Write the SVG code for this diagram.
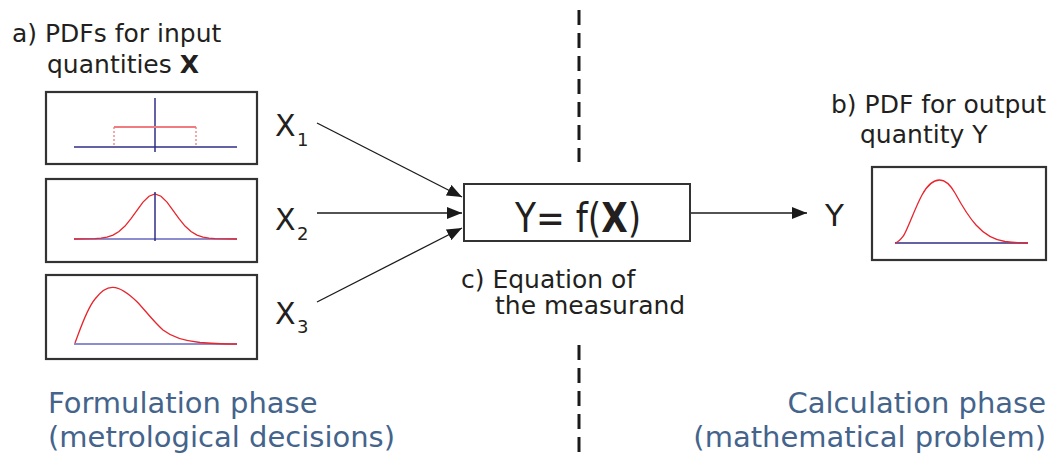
<svg xmlns="http://www.w3.org/2000/svg" width="1056" height="457" viewBox="0 0 1056 457">
<style>
.lbl{font-family:"DejaVu Sans",Verdana,sans-serif;font-size:25px;fill:#231f20}
.big{font-family:"DejaVu Sans",Verdana,sans-serif;fill:#231f20}
.phase{font-family:"DejaVu Sans",Verdana,sans-serif;font-size:29px;fill:#44648c}
.pbox{fill:#fff;stroke:#333;stroke-width:2.2}
.red{fill:none;stroke:#e8242c;stroke-width:1.3}
.axis{fill:none;stroke:#2e2e86;stroke-width:1.5}
.axisl{fill:none;stroke:#8c8cd0;stroke-width:2}
.conn{fill:none;stroke:#1a1a1a;stroke-width:1.3}
</style>
<defs>
<marker id="ah" markerUnits="userSpaceOnUse" markerWidth="16" markerHeight="12" refX="15" refY="6" orient="auto">
<path d="M0,0 L15,6 L0,12 Z" fill="#1a1a1a"/>
</marker>
</defs>

<g id="divider">
<line x1="579" y1="10" x2="579" y2="162" stroke="#1a1a1a" stroke-width="3" stroke-dasharray="15,8"/>
<line x1="579" y1="345" x2="579" y2="457" stroke="#1a1a1a" stroke-width="3" stroke-dasharray="15,8"/>
</g>

<g id="label-a">
<text class="lbl" x="12" y="42">a) PDFs for input</text>
<text class="lbl" x="47" y="73">quantities <tspan font-weight="bold">X</tspan></text>
</g>

<g id="pdf1">
<rect class="pbox" x="46" y="92" width="211" height="72"/>
<line class="axis" x1="74" y1="147" x2="237" y2="147"/>
<line class="axis" x1="155" y1="98" x2="155" y2="152"/>
<path d="M114,127 H196" fill="none" stroke="#f07b80" stroke-width="1.8"/>
<path d="M114,127 V147 M196,127 V147" fill="none" stroke="#f07b80" stroke-width="1.3" stroke-dasharray="2,2"/>
</g>

<g id="pdf2">
<rect class="pbox" x="46" y="179" width="211" height="83"/>
<line class="axisl" x1="74" y1="239" x2="237" y2="239"/>
<path class="red" d="M74,239 L95,238.7 L101,238.2 L107,237.2 L113,235.1 L119,231.5 L125,226.1 L131,218.7 L137,210.3 L143,202.1 L149,196.2 L155,194 L161,196.2 L167,202.1 L173,210.3 L179,218.7 L185,226.1 L191,231.5 L197,235.1 L203,237.2 L209,238.2 L215,238.7 L237,239"/>
<line class="axis" x1="155" y1="192" x2="155" y2="241"/>
</g>

<g id="pdf3">
<rect class="pbox" x="46" y="275" width="211" height="84"/>
<line class="axisl" x1="74" y1="344" x2="237" y2="344"/>
<path class="red" d="M75,343 C79,333 86,310 95,299 C101,291 107,287 113,287.3 C120,287.5 127,292 137,301.7 C145,310 152,320 163,330 C172,337 185,341 200,342.5 C215,343.5 228,344 237,344"/>
</g>

<g id="x-labels">
<text class="big" font-size="30" x="275" y="136">X</text><text class="big" font-size="18" x="297" y="146">1</text>
<text class="big" font-size="30" x="275" y="230">X</text><text class="big" font-size="18" x="297" y="240">2</text>
<text class="big" font-size="30" x="275" y="324">X</text><text class="big" font-size="18" x="297" y="333">3</text>
</g>

<g id="connectors">
<line class="conn" x1="317" y1="123" x2="462" y2="197" marker-end="url(#ah)"/>
<line class="conn" x1="317" y1="213" x2="462" y2="213" marker-end="url(#ah)"/>
<line class="conn" x1="317" y1="302" x2="462" y2="228" marker-end="url(#ah)"/>
<line class="conn" x1="690" y1="213" x2="807" y2="213" marker-end="url(#ah)"/>
</g>

<g id="equation">
<rect x="464" y="184" width="226" height="57" fill="#fff" stroke="#333" stroke-width="2"/>
<text class="big" font-size="40" text-anchor="middle" transform="translate(578,232) scale(0.86,1)">Y= f(<tspan font-weight="bold">X</tspan>)</text>
</g>

<g id="label-c">
<text class="lbl" x="461" y="288">c) Equation of</text>
<text class="lbl" x="495" y="314">the measurand</text>
</g>

<g id="y-label">
<text class="big" font-size="31" x="825" y="226">Y</text>
</g>

<g id="label-b">
<text class="lbl" x="1046" y="113" text-anchor="end">b) PDF for output</text>
<text class="lbl" x="860" y="143">quantity Y</text>
</g>

<g id="pdf-out">
<rect class="pbox" x="872" y="167" width="174" height="93"/>
<line class="axis" x1="895" y1="243" x2="1028" y2="243"/>
<path class="red" d="M895,243 C899,242 901,239 904,235 C909,226 915,208 922,195 C928,184 934,180 939.5,180 C946,180 951,186 955,193 C961,204 968,216 976,225 C985,235 995,240 1005,241.5 C1015,242.7 1022,243 1028,243"/>
</g>

<g id="phase-left">
<text class="phase" x="48" y="413">Formulation phase</text>
<text class="phase" x="48" y="447">(metrological decisions)</text>
</g>

<g id="phase-right">
<text class="phase" x="1046" y="413" text-anchor="end">Calculation phase</text>
<text class="phase" x="1046" y="447" text-anchor="end">(mathematical problem)</text>
</g>
</svg>
